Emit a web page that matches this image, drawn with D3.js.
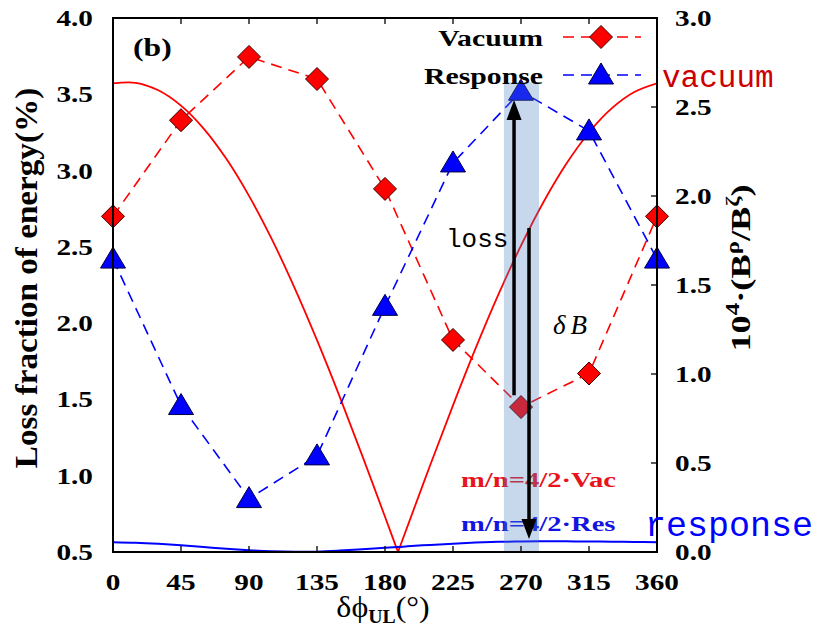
<!DOCTYPE html>
<html><head><meta charset="utf-8">
<script src="https://cdn.jsdelivr.net/npm/d3@7"></script>
<style>body{margin:0;background:#fff}svg{display:block}</style>
</head><body>
<svg id="c" width="817" height="636"></svg>
<script>
// ---- data ----
const phases = [0, 45, 90, 135, 180, 225, 270, 315, 360];
const vacuumLoss = [2.70, 3.33, 3.745, 3.60, 2.88, 1.89, 1.45, 1.67, 2.70];
const responseLoss = [2.42, 1.46, 0.85, 1.13, 2.11, 3.05, 3.52, 3.26, 2.42];
const curvePhases = [0, 15, 30, 45, 60, 75, 90, 105, 120, 135, 150, 165, 180, 188.6, 195, 210, 225, 240, 255, 270, 285, 300, 315, 330, 345, 360];
const vacCurve = [2.633, 2.636, 2.594, 2.508, 2.379, 2.209, 2.001, 1.759, 1.487, 1.190, 0.873, 0.540, 0.198, 0.0, 0.147, 0.490, 0.824, 1.145, 1.446, 1.721, 1.968, 2.181, 2.357, 2.492, 2.584, 2.633];
const resCurve = [0.055, 0.052, 0.046, 0.038, 0.028, 0.018, 0.010, 0.004, 0.001, 0.002, 0.008, 0.016, 0.024, 0.028, 0.032, 0.040, 0.047, 0.053, 0.057, 0.059, 0.060, 0.060, 0.059, 0.058, 0.056, 0.055];
const xTicks = [0, 45, 90, 135, 180, 225, 270, 315, 360];
const yLeftTicks = [0.5, 1.0, 1.5, 2.0, 2.5, 3.0, 3.5, 4.0];
const yRightTicks = [0.0, 0.5, 1.0, 1.5, 2.0, 2.5, 3.0];
const band = [258.7, 281.9];
const bandTop = 2.64;
const lossArrow = {phase: 265.4, from: 0.88, to: 2.54};
const dBArrow = {phase: 275.3, from: 1.82, to: 0.073};

// ---- layout ----
const svg = d3.select('#c');
const L = 113, R = 657, T = 18, B = 552;
const x = d3.scaleLinear().domain([0, 360]).range([L, R]);
const yl = d3.scaleLinear().domain([0.5, 4.0]).range([B, T]);
const yr = d3.scaleLinear().domain([0, 3.0]).range([B, T]);
const serif = "'Liberation Serif','Times New Roman',serif";
const mono = "'Liberation Mono','DejaVu Sans Mono',monospace";
const RED = '#ff0000', BLUE = '#0000ff';
const SX = 1.22; // horizontal stretch of serif texts

function st(parent, px, py, str, o) {
  o = o || {};
  const t = parent.append('text')
    .attr('transform', `translate(${px},${py}) scale(${o.sx || SX},1)`)
    .attr('text-anchor', o.anchor || 'start')
    .attr('font-family', serif).attr('font-weight', o.weight || 'bold')
    .attr('font-size', o.size || 24).attr('fill', o.fill || '#000');
  if (str !== null) t.text(str);
  return t;
}

const defs = svg.append('defs');
defs.append('clipPath').attr('id','clip').append('rect').attr('x',L).attr('y',T).attr('width',R-L).attr('height',B-T);

// solid curves (right axis); vacuum curve drawn as two smooth branches meeting at the zero
const cPts = curvePhases.map((p,i)=>[p, vacCurve[i]]);
const zeroIdx = vacCurve.indexOf(0);
const lr = d3.line().x(d=>x(d[0])).y(d=>yr(d[1])).curve(d3.curveCatmullRom);
[cPts.slice(0, zeroIdx+1), cPts.slice(zeroIdx)].forEach(seg=>{
  svg.append('path').datum(seg).attr('d', lr).attr('fill','none').attr('stroke',RED).attr('stroke-width',1.8).attr('clip-path','url(#clip)');
});
svg.append('path').datum(curvePhases.map((p,i)=>[p, resCurve[i]])).attr('d', lr).attr('fill','none').attr('stroke',BLUE).attr('stroke-width',2).attr('clip-path','url(#clip)');

// dashed series (left axis)
const ll = d3.line().x((d,i)=>x(phases[i])).y(d=>yl(d));
svg.append('path').datum(vacuumLoss).attr('d', ll).attr('fill','none').attr('stroke',RED).attr('stroke-width',1.6).attr('stroke-dasharray','11,7');
svg.append('path').datum(responseLoss).attr('d', ll).attr('fill','none').attr('stroke',BLUE).attr('stroke-width',1.6).attr('stroke-dasharray','11,7');

const diamond = (g, cx, cy) => g.append('path')
  .attr('d', `M${cx},${cy-11.5}L${cx+11.5},${cy}L${cx},${cy+11.5}L${cx-11.5},${cy}Z`)
  .attr('fill', RED).attr('stroke','#3a0000').attr('stroke-width',1);
const tri = (g, cx, cy) => g.append('path')
  .attr('d', `M${cx},${cy-12}L${cx+12.5},${cy+9}L${cx-12.5},${cy+9}Z`)
  .attr('fill', BLUE).attr('stroke','#000040').attr('stroke-width',1);

const mk = svg.append('g');
vacuumLoss.forEach((v,i)=>diamond(mk, x(phases[i]), yl(v)));
responseLoss.forEach((v,i)=>tri(mk, x(phases[i]), yl(v)));

// annotation texts under band
st(svg, 461, 487, 'm/n=4/2·Vac', {size: 22, fill: '#e8141c', sx: 1.3});
st(svg, 461, 531, 'm/n=4/2·Res', {size: 22, fill: '#1414e0', sx: 1.3});

// shaded band
svg.append('rect').attr('x',x(band[0])).attr('y',yr(bandTop)).attr('width',x(band[1])-x(band[0])).attr('height',B-yr(bandTop))
  .attr('fill','#4d81c2').attr('fill-opacity',0.31);

// arrows
function arrow(a){
  const xx = x(a.phase), y1 = yr(a.from), y2 = yr(a.to);
  const dir = y2 < y1 ? -1 : 1;
  const headL = 20, headW = 7.5;
  svg.append('line').attr('x1',xx).attr('x2',xx).attr('y1',y1).attr('y2',y2 - dir*headL*0.8).attr('stroke','#000').attr('stroke-width',3.5);
  svg.append('path').attr('d',`M${xx},${y2}L${xx+headW},${y2-dir*headL}L${xx-headW},${y2-dir*headL}Z`).attr('fill','#000');
}
arrow(lossArrow);
arrow(dBArrow);

// frame
svg.append('rect').attr('x',L).attr('y',T).attr('width',R-L).attr('height',B-T).attr('fill','none').attr('stroke','#000').attr('stroke-width',2);

// ticks
const tk = svg.append('g').attr('stroke','#000').attr('stroke-width',1.3);
xTicks.slice(1,-1).forEach(t=>{
  tk.append('line').attr('x1',x(t)).attr('x2',x(t)).attr('y1',B).attr('y2',B-6);
  tk.append('line').attr('x1',x(t)).attr('x2',x(t)).attr('y1',T).attr('y2',T+6);
});
yRightTicks.slice(1,-1).forEach(t=>{
  tk.append('line').attr('x1',R).attr('x2',R-6).attr('y1',yr(t)).attr('y2',yr(t));
});

// tick labels
const lab = svg.append('g');
xTicks.forEach(t=>st(lab, x(t), 590, String(t), {anchor:'middle'}));
yLeftTicks.forEach(t=>st(lab, 93, yl(t)+8, t.toFixed(1), {anchor:'end'}));
yRightTicks.forEach(t=>st(lab, 675, yr(t)+8, t.toFixed(1)));

// axis titles
svg.append('text').attr('transform','translate(37,278) rotate(-90) scale(1.07,1)').attr('text-anchor','middle')
  .attr('font-family',serif).attr('font-weight','bold').attr('font-size',31).text('Loss fraction of energy(%)');
const rt = svg.append('text').attr('transform','translate(750,268) rotate(-90) scale(1.3,1)').attr('text-anchor','middle')
  .attr('font-family',serif).attr('font-weight','bold').attr('font-size',28);
rt.append('tspan').text('10');
rt.append('tspan').attr('dy',-11).attr('font-size',19).text('4');
rt.append('tspan').attr('dy',11).text('·(B');
rt.append('tspan').attr('dy',-11).attr('font-size',19).text('ρ');
rt.append('tspan').attr('dy',11).text('/B');
rt.append('tspan').attr('dy',-11).attr('font-size',19).text('ζ');
rt.append('tspan').attr('dy',11).text(')');
const xt = st(svg, 383, 617, null, {anchor:'middle', weight:'normal', size:29, sx:1.1});
xt.append('tspan').text('δϕ');
xt.append('tspan').attr('dy',6).attr('font-size',18).attr('font-weight','bold').text('UL');
xt.append('tspan').attr('dy',-6).text('(°)');

// panel label
st(svg, 133, 56, '(b)', {size: 26});

// legend
const lg = svg.append('g');
[['Vacuum', 46, RED, 37, diamond], ['Response', 84, BLUE, 75, tri]].forEach(([name, by, col, ly, fn])=>{
  st(lg, 543, by, name, {anchor:'end', size: 24, sx: 1.24});
  lg.append('line').attr('x1',563).attr('x2',641).attr('y1',ly).attr('y2',ly).attr('stroke',col).attr('stroke-width',1.6).attr('stroke-dasharray','11,7');
  fn(lg, 601, ly);
});

// annotations
svg.append('text').attr('x',446).attr('y',247).attr('font-family',mono).attr('font-size',26).attr('fill','#000').text('loss');
const db = svg.append('text').attr('x',553).attr('y',334).attr('font-family',serif).attr('font-style','italic').attr('font-size',27).attr('fill','#000');
db.append('tspan').text('δ');
db.append('tspan').attr('dx',5).text('B');
svg.append('text').attr('x',662).attr('y',87).attr('font-family',mono).attr('font-size',31).attr('fill','#cc0000').text('vacuum');
svg.append('text').attr('x',645).attr('y',536).attr('font-family',mono).attr('font-size',35).attr('fill','#0000ff').text('response');
</script>
</body></html>
